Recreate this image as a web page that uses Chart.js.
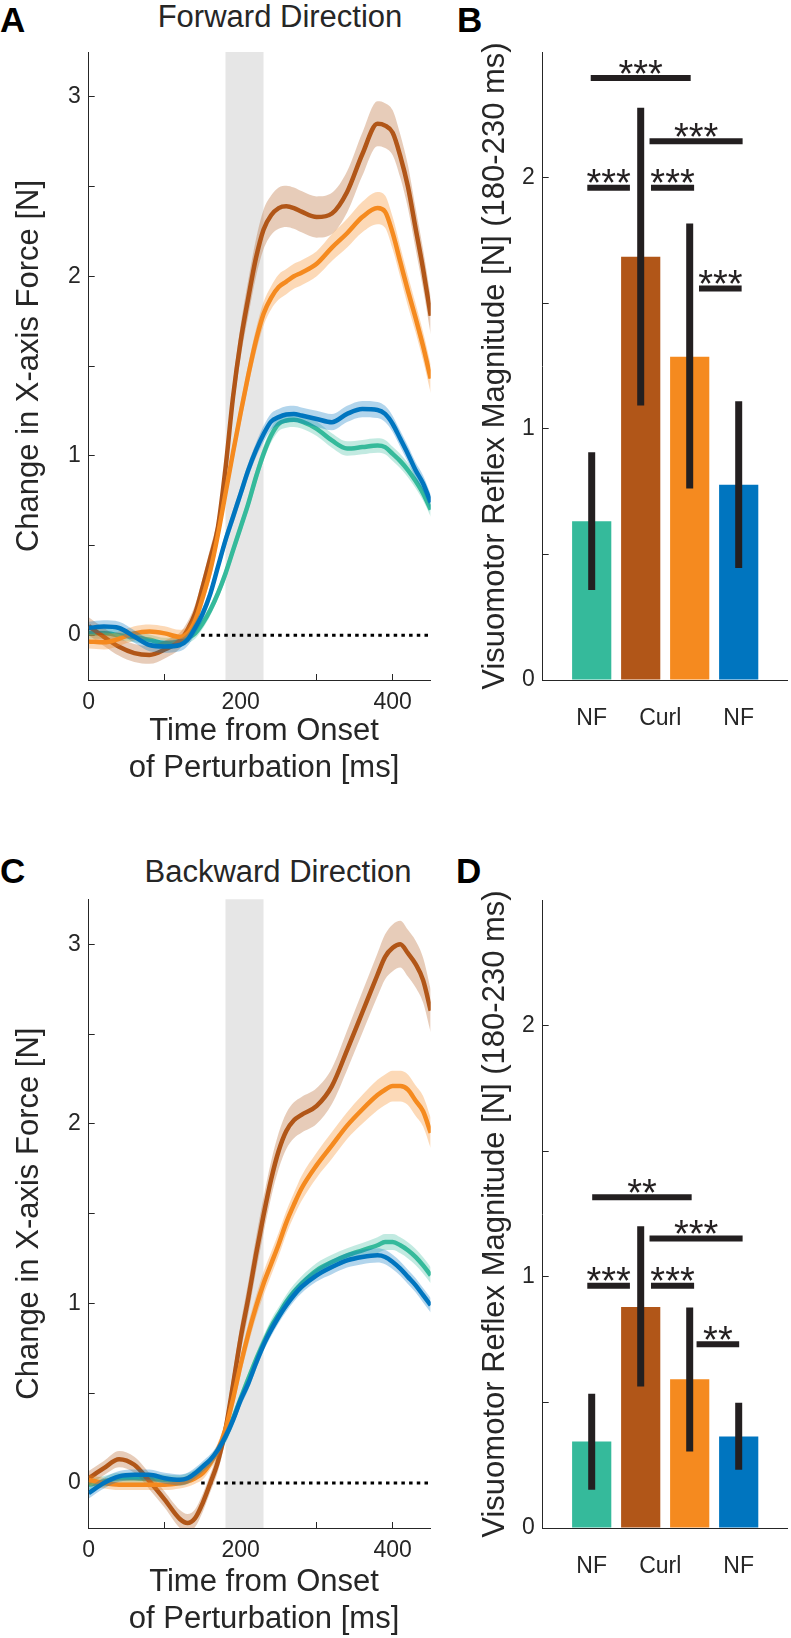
<!DOCTYPE html>
<html>
<head>
<meta charset="utf-8">
<script src="https://cdn.jsdelivr.net/npm/chart.js@4.4.1/dist/chart.umd.min.js"></script>
<style>
html,body{margin:0;padding:0;background:#fff;width:791px;height:1638px;overflow:hidden;font-family:"Liberation Sans",Arial,Helvetica,sans-serif;color:#262626}
canvas{position:absolute}
.lbl{position:absolute;white-space:nowrap;line-height:1}
.letter{font-size:35px;font-weight:bold;color:#000}
.ttl{font-size:31px;text-align:center;width:400px}
</style>
</head>
<body>
<div class="lbl letter" style="left:0px;top:2px">A</div>
<div class="lbl letter" style="left:457px;top:2px">B</div>
<div class="lbl letter" style="left:0px;top:853px">C</div>
<div class="lbl letter" style="left:456px;top:853px">D</div>
<div class="lbl ttl" style="left:80px;top:1px">Forward Direction</div>
<div class="lbl ttl" style="left:78px;top:856px">Backward Direction</div>

<canvas id="cA" width="440" height="790" style="left:0px;top:0px"></canvas>
<canvas id="cB" width="391" height="790" style="left:400px;top:0px"></canvas>
<canvas id="cC" width="440" height="791" style="left:0px;top:847px"></canvas>
<canvas id="cD" width="391" height="791" style="left:400px;top:847px"></canvas>

<script>
// ---------- data ----------
const timeMs = [0,20,40,60,80,100,120,130,140,150,160,170,180,190,200,210,220,230,240,250,260,270,280,300,320,340,360,380,390,400,410,420,430,440,450];

// Forward direction (panel A)
const fwdPreNF     = [0.01,0.01,0.0,-0.01,-0.026,-0.045,-0.035,-0.017,0.01,0.066, 0.14,0.233,0.344,0.474,0.603,0.733,0.88,1.01,1.113,1.178, 1.196,1.2,1.192,1.15,1.085,1.04,1.048,1.057,1.048,1.01, 0.97,0.92,0.86,0.79,0.70];
const fwdEarlyCurl = [0.05,-0.01,-0.065,-0.10,-0.11,-0.08,-0.03,0.03,0.12,0.27, 0.43,0.60,0.93,1.33,1.64,1.88,2.10,2.26,2.34,2.38, 2.39,2.38,2.36,2.33,2.35,2.47,2.68,2.85,2.84,2.80, 2.67,2.50,2.27,2.04,1.78];
const fwdLateCurl  = [-0.035,-0.04,-0.02,0.01,0.02,0.01,-0.01,0.01,0.08,0.21, 0.36,0.56,0.79,1.02,1.24,1.45,1.64,1.79,1.88,1.94, 1.97,2.00,2.02,2.07,2.16,2.24,2.33,2.38,2.36,2.24, 2.08,1.92,1.77,1.61,1.43];
const fwdPostNF    = [0.04,0.048,0.04,-0.008,-0.055,-0.063,-0.055,-0.026,0.04,0.12, 0.23,0.38,0.53,0.66,0.79,0.92,1.03,1.12,1.19,1.215, 1.23,1.233,1.224,1.205,1.187,1.233,1.26,1.255,1.233,1.177, 1.094,1.01,0.92,0.845,0.74];
const fwdPreNFSem     = [0.03,0.03,0.03,0.03,0.03,0.03,0.03,0.03,0.03,0.03, 0.03,0.03,0.035,0.035,0.035,0.035,0.04,0.04,0.04,0.04, 0.04,0.04,0.04,0.04,0.04,0.04,0.04,0.04,0.04,0.04, 0.04,0.04,0.04,0.04,0.04];
const fwdEarlyCurlSem = [0.05,0.05,0.05,0.05,0.05,0.05,0.045,0.045,0.05,0.05, 0.055,0.06,0.07,0.08,0.09,0.10,0.105,0.11,0.11,0.115, 0.115,0.115,0.115,0.115,0.115,0.115,0.12,0.125,0.125,0.125, 0.12,0.12,0.115,0.11,0.105];
const fwdLateCurlSem  = [0.04,0.04,0.04,0.04,0.04,0.04,0.04,0.04,0.04,0.045, 0.045,0.05,0.05,0.055,0.06,0.06,0.065,0.065,0.065,0.07, 0.07,0.07,0.07,0.07,0.075,0.08,0.085,0.09,0.09,0.09, 0.085,0.085,0.08,0.08,0.08];
const fwdPostNFSem    = [0.035,0.035,0.035,0.035,0.035,0.035,0.035,0.035,0.035,0.035, 0.035,0.035,0.04,0.04,0.04,0.04,0.04,0.045,0.045,0.045, 0.045,0.045,0.045,0.045,0.045,0.045,0.045,0.045,0.045,0.045, 0.045,0.045,0.045,0.045,0.045];

// Backward direction (panel C)
const bwdPreNF     = [-0.009,0.009,0.027,0.027,0.022,0.018,0.014,0.025,0.046,0.08, 0.12,0.18,0.259,0.36,0.472,0.58,0.685,0.78,0.87,0.94, 1.009,1.065,1.111,1.185,1.231,1.268,1.296,1.324,1.342,1.342, 1.324,1.296,1.259,1.212,1.157];
const bwdEarlyCurl = [0.027,0.083,0.133,0.102,0.01,-0.092,-0.20,-0.222,-0.195,-0.111, 0.0,0.12,0.30,0.55,0.81,1.03,1.27,1.49,1.69,1.85, 1.96,2.02,2.05,2.10,2.21,2.41,2.62,2.83,2.93,2.98, 3.00,2.95,2.89,2.80,2.63];
const bwdLateCurl  = [0.018,0.0,-0.009,-0.009,-0.009,-0.009,0.0,0.01,0.027,0.055, 0.11,0.185,0.30,0.47,0.66,0.83,0.98,1.11,1.22,1.33, 1.45,1.55,1.64,1.77,1.88,1.99,2.08,2.16,2.19,2.21, 2.21,2.19,2.13,2.07,1.95];
const bwdPostNF    = [-0.056,0.0,0.037,0.046,0.046,0.027,0.018,0.027,0.055,0.092, 0.13,0.185,0.259,0.352,0.463,0.555,0.666,0.768,0.852,0.926, 0.99,1.046,1.092,1.157,1.203,1.24,1.259,1.268,1.259,1.231, 1.194,1.148,1.102,1.046,0.99];
const bwdPreNFSem     = [0.03,0.03,0.03,0.03,0.03,0.03,0.03,0.03,0.03,0.03, 0.03,0.03,0.035,0.035,0.035,0.035,0.035,0.04,0.04,0.04, 0.04,0.04,0.04,0.04,0.04,0.04,0.04,0.045,0.045,0.045, 0.045,0.045,0.045,0.045,0.045];
const bwdEarlyCurlSem = [0.04,0.04,0.045,0.045,0.045,0.045,0.05,0.05,0.05,0.05, 0.05,0.055,0.06,0.07,0.08,0.09,0.095,0.10,0.10,0.10, 0.10,0.10,0.10,0.10,0.10,0.11,0.115,0.12,0.125,0.13, 0.13,0.13,0.13,0.125,0.12];
const bwdLateCurlSem  = [0.03,0.03,0.03,0.03,0.03,0.03,0.03,0.03,0.03,0.035, 0.035,0.04,0.045,0.05,0.055,0.06,0.06,0.065,0.065,0.065, 0.065,0.065,0.07,0.07,0.075,0.075,0.08,0.085,0.085,0.085, 0.085,0.085,0.085,0.085,0.085];
const bwdPostNFSem    = [0.03,0.03,0.03,0.03,0.03,0.03,0.03,0.03,0.03,0.03, 0.03,0.03,0.035,0.035,0.035,0.035,0.035,0.035,0.035,0.035, 0.035,0.035,0.035,0.035,0.04,0.04,0.04,0.04,0.04,0.04, 0.04,0.04,0.04,0.04,0.04];

const xTicksMs = [0,100,200,300,400];
const xLabelsMs = [0,200,400];
const yTicksForce = [0,0.5,1,1.5,2,2.5,3];
const yLabelsForce = [0,1,2,3];
const windowMs = [180,230];
const zeroLineMs = [148,450];

// Bar panels (B, D)
const barPos = [1,2,3,4];
const barCategories = ['NF','Curl','NF'];
const barCategoryPos = [1,2.4,4];
const yTicksReflex = [0,0.5,1,1.5,2];
const yLabelsReflex = [0,1,2];

const fwdBarMean = [0.632,1.685,1.287,0.777];
const fwdBarLow  = [0.358,1.093,0.762,0.446];
const fwdBarHigh = [0.907,2.278,1.817,1.110];
const fwdSigFrom  = [0.98,2.18,0.91,2.21,3.19];
const fwdSigTo    = [3.02,4.08,1.78,3.09,4.06];
const fwdSigLevel = [2.396,2.145,1.96,1.96,1.559];
const fwdSigText  = ['***','***','***','***','***'];

const bwdBarMean = [0.344,0.880,0.592,0.364];
const bwdBarLow  = [0.152,0.563,0.305,0.232];
const bwdBarHigh = [0.534,1.201,0.878,0.499];
const bwdSigFrom  = [1.01,2.18,0.91,2.21,3.14];
const bwdSigTo    = [3.04,4.08,1.78,3.09,4.01];
const bwdSigLevel = [1.317,1.152,0.964,0.964,0.731];
const bwdSigText  = ['**','***','***','***','**'];

// ---------- styles ----------
const FAM = '"Liberation Sans", Arial, Helvetica, sans-serif';
const AXC = '#262626';
const INK = '#231f20';
const C_TEAL = '#35ba9b', C_BROWN = '#b15618', C_ORANGE = '#f58a1f', C_BLUE = '#0075bf';
const B_TEAL = 'rgba(53,186,155,0.30)', B_BROWN = 'rgba(177,86,24,0.30)', B_ORANGE = 'rgba(245,138,31,0.32)', B_BLUE = 'rgba(0,117,191,0.30)';

Chart.defaults.font.family = FAM;
Chart.defaults.color = AXC;

const tickGrid = {display:true, drawOnChartArea:false, drawTicks:true, tickLength:-6, color:AXC, lineWidth:1};
const axisBorder = {display:true, color:AXC, width:1};

const windowPlugin = {
  id:'respWindow',
  beforeDatasetsDraw(chart){
    const {ctx, chartArea, scales} = chart;
    const x1 = scales.x.getPixelForValue(windowMs[0]);
    const x2 = scales.x.getPixelForValue(windowMs[1]);
    ctx.save();
    ctx.fillStyle = '#e6e6e6';
    ctx.fillRect(x1, chartArea.top, x2 - x1, chartArea.bottom - chartArea.top);
    ctx.restore();
  }
};

function makeLinePanel(id, series, topPad, titleBottomPad){
  const datasets = [{
    data: zeroLineMs.map(t => ({x:t, y:0})),
    borderColor:'#000', borderWidth:3, borderDash:[3.5,4.2], pointRadius:0, fill:false, order:50
  }];
  series.forEach((s, k) => {
    const base = 40 - k*10;
    const pts = f => timeMs.map((t,i) => ({x:t, y:f(i)}));
    datasets.push({data: pts(i => s.v[i] + s.e[i]), borderWidth:0, pointRadius:0, fill:'+1', backgroundColor:s.band, order:base+0.2, cubicInterpolationMode:'monotone'});
    datasets.push({data: pts(i => s.v[i] - s.e[i]), borderWidth:0, pointRadius:0, fill:false, order:base+0.1, cubicInterpolationMode:'monotone'});
    datasets.push({data: pts(i => s.v[i]), borderColor:s.c, borderWidth:4.5, pointRadius:0, fill:false, order:base, cubicInterpolationMode:'monotone', borderCapStyle:'butt'});
  });
  return new Chart(document.getElementById(id), {
    type:'line',
    data:{datasets},
    plugins:[windowPlugin],
    options:{
      responsive:false, animation:false, devicePixelRatio:1, events:[],
      layout:{padding:{top:topPad, right:9.3, left:0, bottom:0}},
      plugins:{legend:{display:false}, tooltip:{enabled:false}},
      scales:{
        x:{
          type:'linear', min:0, max:450,
          afterBuildTicks: ax => { ax.ticks = xTicksMs.map(v => ({value:v})); },
          afterFit: ax => { ax.height = 110; },
          grid:tickGrid, border:axisBorder,
          ticks:{padding:15, color:AXC, font:{size:23}, maxRotation:0, autoSkip:false,
                 callback: v => xLabelsMs.includes(v) ? String(v) : ''},
          title:{display:true, text:['\u00a0Time from Onset','\u00a0of Perturbation [ms]'], color:AXC, font:{size:31}, padding:{top:0, bottom:titleBottomPad}}
        },
        y:{
          type:'linear', min:-0.25, max:3.25,
          afterBuildTicks: ax => { ax.ticks = yTicksForce.map(v => ({value:v})); },
          afterFit: ax => { ax.width = 88.7; },
          grid:tickGrid, border:axisBorder,
          ticks:{padding:14, color:AXC, font:{size:23}, autoSkip:false,
                 callback: v => yLabelsForce.includes(v) ? String(v) : ''},
          title:{display:true, text:'Change in X-axis Force [N]', color:AXC, font:{size:31}, padding:{top:10.4, bottom:0}}
        }
      }
    }
  });
}

function makeBarPanel(id, mean, low, high, sigFrom, sigTo, sigLevel, sigText, topPad){
  const starsPlugin = {
    id:'sigStars',
    afterDatasetsDraw(chart){
      const {ctx, scales} = chart;
      const size = 38;
      ctx.save();
      ctx.font = size + 'px ' + FAM;
      ctx.fillStyle = INK;
      ctx.textAlign = 'center';
      ctx.textBaseline = 'alphabetic';
      sigText.forEach((t,i) => {
        const px = scales.x.getPixelForValue((sigFrom[i] + sigTo[i]) / 2);
        const py = scales.y.getPixelForValue(sigLevel[i]);
        const m = ctx.measureText(t);
        const target = py - 11.5;
        const base = target + (m.actualBoundingBoxAscent - m.actualBoundingBoxDescent) / 2;
        ctx.fillText(t, px, base);
      });
      ctx.restore();
    }
  };
  const datasets = [
    {type:'bar', data: mean.map((m,i) => ({x:barPos[i], y:m})),
     backgroundColor:[C_TEAL, C_BROWN, C_ORANGE, C_BLUE], grouped:false, categoryPercentage:1, barPercentage:0.8, order:3},
    {type:'bar', data: low.map((l,i) => ({x:barPos[i], y:[l, high[i]]})),
     backgroundColor:INK, grouped:false, categoryPercentage:1, barPercentage:0.8, maxBarThickness:7, order:2}
  ];
  sigLevel.forEach((lv,i) => {
    datasets.push({type:'line', data:[{x:sigFrom[i], y:lv},{x:sigTo[i], y:lv}],
      borderColor:INK, borderWidth:6, borderCapStyle:'butt', pointRadius:0, fill:false, order:1});
  });
  return new Chart(document.getElementById(id), {
    type:'bar',
    data:{datasets},
    plugins:[starsPlugin],
    options:{
      responsive:false, animation:false, devicePixelRatio:1, events:[],
      layout:{padding:{top:topPad, right:3.3, left:0, bottom:0}},
      plugins:{legend:{display:false}, tooltip:{enabled:false}},
      scales:{
        x:{
          type:'linear', min:0, max:5, offset:false,
          afterBuildTicks: ax => { ax.ticks = barCategoryPos.map(v => ({value:v})); },
          afterFit: ax => { ax.height = 110; },
          grid:{display:false, drawTicks:false, offset:false}, border:axisBorder,
          ticks:{padding:24.5, color:AXC, font:{size:23}, maxRotation:0, autoSkip:false,
                 callback: (v,i) => barCategories[i]}
        },
        y:{
          type:'linear', min:0, max:2.5,
          afterBuildTicks: ax => { ax.ticks = yTicksReflex.map(v => ({value:v})); },
          afterFit: ax => { ax.width = 142.7; },
          grid:tickGrid, border:axisBorder,
          ticks:{padding:14, color:AXC, font:{size:23}, autoSkip:false,
                 callback: v => yLabelsReflex.includes(v) ? String(v) : ''},
          title:{display:true, text:'Visuomotor Reflex Magnitude [N] (180-230 ms)', color:AXC, font:{size:31}, padding:{top:76.4, bottom:0}}
        }
      }
    }
  });
}

makeLinePanel('cA', [
  {v:fwdPreNF, e:fwdPreNFSem, c:C_TEAL, band:B_TEAL},
  {v:fwdEarlyCurl, e:fwdEarlyCurlSem, c:C_BROWN, band:B_BROWN},
  {v:fwdLateCurl, e:fwdLateCurlSem, c:C_ORANGE, band:B_ORANGE},
  {v:fwdPostNF, e:fwdPostNFSem, c:C_BLUE, band:B_BLUE}
], 52, 2.7);

makeLinePanel('cC', [
  {v:bwdPreNF, e:bwdPreNFSem, c:C_TEAL, band:B_TEAL},
  {v:bwdEarlyCurl, e:bwdEarlyCurlSem, c:C_BROWN, band:B_BROWN},
  {v:bwdLateCurl, e:bwdLateCurlSem, c:C_ORANGE, band:B_ORANGE},
  {v:bwdPostNF, e:bwdPostNFSem, c:C_BLUE, band:B_BLUE}
], 52.3, 0);

makeBarPanel('cB', fwdBarMean, fwdBarLow, fwdBarHigh, fwdSigFrom, fwdSigTo, fwdSigLevel, fwdSigText, 52);
makeBarPanel('cD', bwdBarMean, bwdBarLow, bwdBarHigh, bwdSigFrom, bwdSigTo, bwdSigLevel, bwdSigText, 53);
</script>
</body>
</html>
